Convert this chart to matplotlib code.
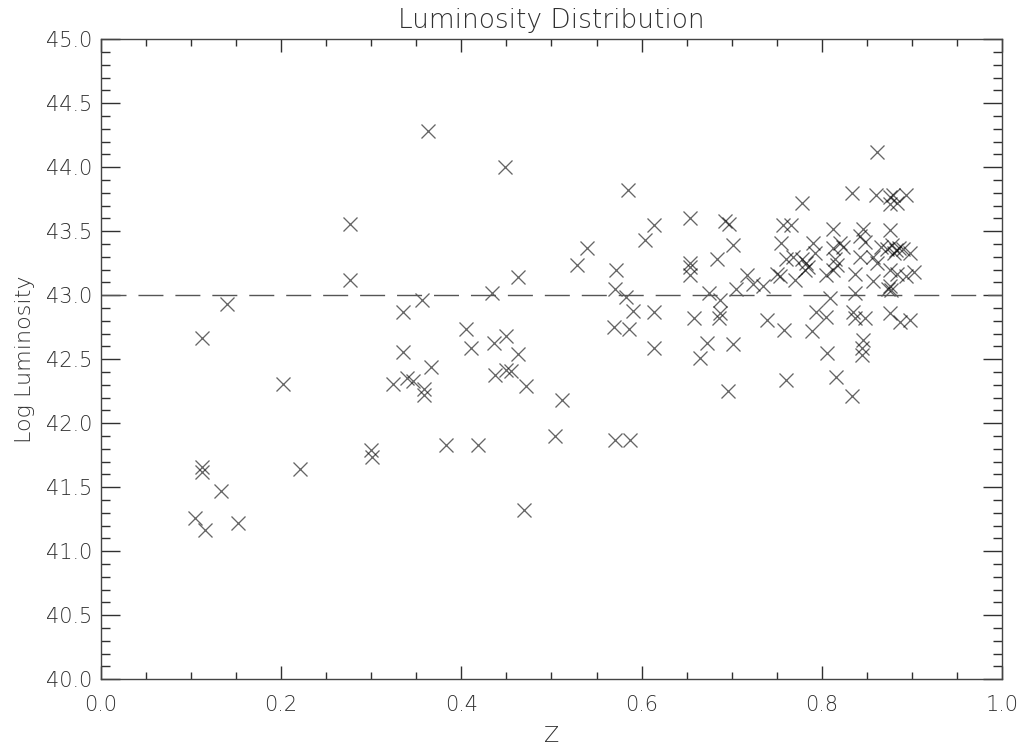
import matplotlib
matplotlib.use("Agg")
import matplotlib.pyplot as plt
from matplotlib.ticker import MultipleLocator, FormatStrFormatter

plt.rcParams.update({
    "font.family": "DejaVu Sans",
    "font.weight": "light",
    "text.color": "#303030",
    "axes.labelcolor": "#303030",
    "axes.titleweight": "light",
    "axes.labelweight": "light",
    "xtick.color": "#303030",
    "ytick.color": "#303030",
})

# redshift of each source
z = [
    0.104, 0.115, 0.112, 0.112, 0.112, 0.133, 0.140, 0.152, 0.202, 0.221,
    0.276, 0.276, 0.300, 0.301, 0.324, 0.335, 0.335, 0.340, 0.346, 0.356,
    0.358, 0.358, 0.3625, 0.366, 0.383, 0.405, 0.411, 0.418, 0.434, 0.436,
    0.437, 0.448, 0.449, 0.450, 0.455, 0.463, 0.463, 0.470, 0.472, 0.504,
    0.512, 0.528, 0.539, 0.569, 0.5705, 0.572, 0.5705, 0.583, 0.585, 0.586,
    0.587, 0.590, 0.604, 0.614, 0.614, 0.614, 0.654, 0.654, 0.654, 0.654,
    0.6585, 0.665, 0.673, 0.675, 0.684, 0.686, 0.687, 0.687, 0.693, 0.697,
    0.6955, 0.701, 0.701, 0.705, 0.717, 0.724, 0.735, 0.739, 0.750, 0.754,
    0.755, 0.757, 0.766, 0.758, 0.760, 0.760, 0.768, 0.770, 0.778, 0.778,
    0.781, 0.783, 0.785, 0.789, 0.7905, 0.792, 0.794, 0.805, 0.805, 0.806,
    0.809, 0.813, 0.813, 0.815, 0.8165, 0.813, 0.816, 0.820, 0.824, 0.834,
    0.834, 0.835, 0.837, 0.837, 0.837, 0.842, 0.846, 0.848, 0.848, 0.846,
    0.845, 0.845, 0.857, 0.857, 0.860, 0.861, 0.861, 0.876, 0.879, 0.894,
    0.876, 0.883, 0.876, 0.866, 0.872, 0.878, 0.882, 0.886, 0.890, 0.880,
    0.898, 0.876, 0.883, 0.902, 0.894, 0.876, 0.877, 0.874, 0.876, 0.887,
    0.898, 0.842,
]

# log luminosity of each source
log_lum = [
    41.26, 41.17, 41.66, 41.62, 42.67, 41.47, 42.93, 41.22, 42.31, 41.64,
    43.56, 43.12, 41.79, 41.74, 42.31, 42.87, 42.56, 42.35, 42.33, 42.96,
    42.27, 42.22, 44.28, 42.44, 41.83, 42.74, 42.59, 41.83, 43.02, 42.63,
    42.38, 44.00, 42.68, 42.42, 42.41, 42.54, 43.14, 41.32, 42.29, 41.90,
    42.18, 43.24, 43.37, 42.75, 43.05, 43.20, 41.87, 42.99, 43.82, 42.74,
    41.87, 42.88, 43.43, 43.55, 42.87, 42.59, 43.60, 43.25, 43.22, 43.16,
    42.82, 42.51, 42.63, 43.02, 43.28, 42.82, 42.96, 42.86, 43.58, 43.56,
    42.25, 43.39, 42.62, 43.05, 43.16, 43.09, 43.07, 42.81, 43.17, 43.15,
    43.41, 43.55, 43.55, 42.73, 43.28, 42.34, 43.30, 43.12, 43.72, 43.28,
    43.20, 43.25, 43.22, 42.72, 43.41, 43.33, 42.87, 43.16, 42.83, 42.55,
    42.98, 43.52, 43.37, 43.28, 43.24, 43.20, 42.36, 43.41, 43.38, 43.80,
    42.21, 42.87, 43.17, 43.02, 42.82, 43.46, 43.52, 43.42, 42.82, 42.65,
    42.59, 42.53, 43.30, 43.11, 43.78, 44.12, 43.25, 43.77, 43.78, 43.78,
    43.71, 43.72, 43.51, 43.38, 43.36, 43.39, 43.35, 43.37, 43.36, 43.33,
    43.33, 43.20, 43.17, 43.18, 43.15, 43.07, 43.04, 43.05, 42.86, 42.79,
    42.81, 43.30,
]

threshold = 43.0

fig = plt.figure(figsize=(10.22, 7.44), dpi=100)
ax = fig.add_axes([0.0988, 0.0870, 0.8816, 0.8602])

ax.plot(z, log_lum, linestyle="none", marker="x", markersize=9.5,
        markeredgewidth=0.95, color="black", alpha=0.6)
ax.axhline(threshold, color="#555555", linewidth=1.0, dashes=(18, 8.6))

ax.set_xlim(0.0, 1.0)
ax.set_ylim(40.0, 45.0)

ax.xaxis.set_major_locator(MultipleLocator(0.2))
ax.xaxis.set_minor_locator(MultipleLocator(0.05))
ax.yaxis.set_major_locator(MultipleLocator(0.5))
ax.yaxis.set_minor_locator(MultipleLocator(0.1))
ax.xaxis.set_major_formatter(FormatStrFormatter("%.1f"))
ax.yaxis.set_major_formatter(FormatStrFormatter("%.1f"))

ax.tick_params(axis="both", which="both", direction="in",
               top=True, right=True, labelsize=15, colors="#303030")
ax.tick_params(axis="x", which="major", length=9.4, width=1.0, pad=11)
ax.tick_params(axis="x", which="minor", length=5.0, width=1.0)
ax.tick_params(axis="y", which="major", length=13.7, width=1.0, pad=6)
ax.tick_params(axis="y", which="minor", length=6.5, width=1.0)

for s in ax.spines.values():
    s.set_color("#444444")
    s.set_linewidth(1.0)

ax.set_title("Luminosity Distribution", fontsize=19, pad=8)
ax.set_xlabel("Z", fontsize=16, labelpad=8)
ax.set_ylabel("Log Luminosity", fontsize=16, labelpad=8)

fig.savefig("out.png", dpi=100)
